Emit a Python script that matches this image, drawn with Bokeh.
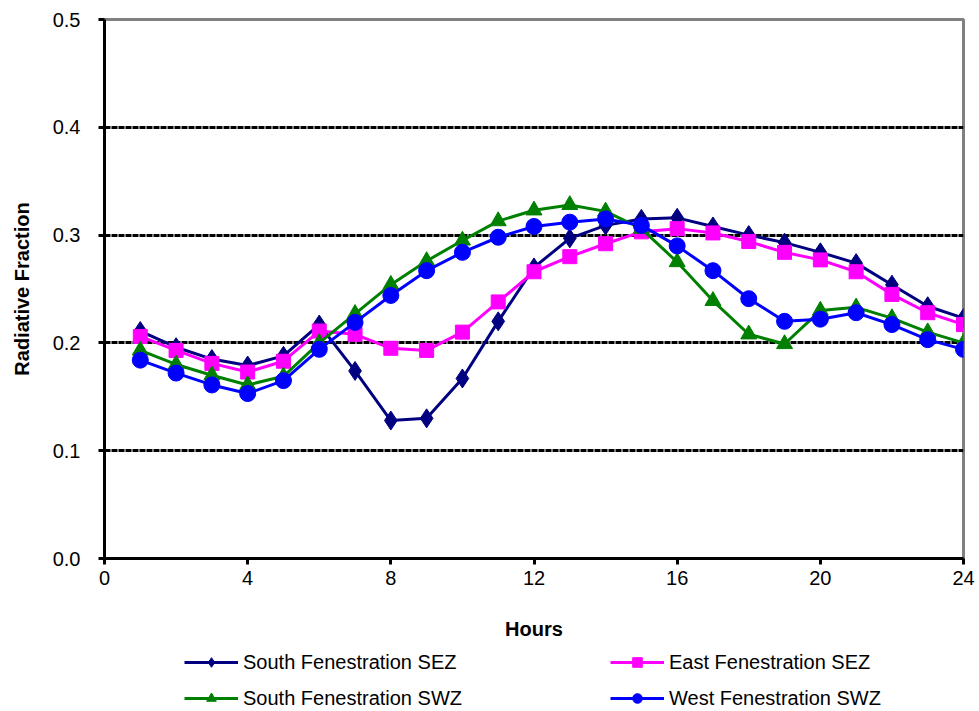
from bokeh.plotting import figure
from bokeh.layouts import column
from bokeh.models import Legend, LegendItem, NumeralTickFormatter, FixedTicker, Range1d
from bokeh.embed import file_html
from bokeh.resources import INLINE

hours = list(range(1, 25))

south_sez = [0.211, 0.196, 0.185, 0.179, 0.188, 0.217, 0.174, 0.128, 0.130, 0.167, 0.220, 0.270,
             0.297, 0.309, 0.315, 0.316, 0.308, 0.300, 0.293, 0.284, 0.274, 0.254, 0.234, 0.223]
east_sez = [0.206, 0.193, 0.181, 0.173, 0.183, 0.211, 0.208, 0.195, 0.193, 0.210, 0.238, 0.266,
            0.280, 0.292, 0.303, 0.306, 0.302, 0.294, 0.284, 0.277, 0.266, 0.245, 0.228, 0.217]
south_swz = [0.193, 0.180, 0.170, 0.161, 0.169, 0.200, 0.227, 0.254, 0.276, 0.295, 0.313, 0.323,
             0.328, 0.322, 0.306, 0.275, 0.239, 0.208, 0.199, 0.230, 0.233, 0.223, 0.210, 0.200]
west_swz = [0.184, 0.172, 0.161, 0.153, 0.165, 0.194, 0.219, 0.244, 0.267, 0.284, 0.298, 0.308,
            0.312, 0.315, 0.309, 0.290, 0.267, 0.241, 0.220, 0.222, 0.228, 0.217, 0.203, 0.194]

x_ticks = [0, 4, 8, 12, 16, 20, 24]
y_ticks = [0.0, 0.1, 0.2, 0.3, 0.4, 0.5]

FONT = "Liberation Sans"

series = [
    ("South Fenestration SEZ", south_sez, "#000080", "diamond", 19),
    ("East Fenestration SEZ", east_sez, "#FF00FF", "square", 14),
    ("South Fenestration SWZ", south_swz, "#008000", "triangle", 16),
    ("West Fenestration SWZ", west_swz, "#0000FF", "circle", 16),
]

# ---- main chart ----
p = figure(width=979, height=645, output_backend="svg", toolbar_location=None,
           x_range=Range1d(0, 24), y_range=Range1d(0, 0.5),
           min_border_left=104, min_border_right=16, min_border_top=19, min_border_bottom=87)

p.background_fill_color = "white"
p.border_fill_color = "white"
p.outline_line_color = "#808080"
p.outline_line_width = 3

# grid: dashed black horizontals only
p.xgrid.visible = False
p.ygrid.ticker = FixedTicker(ticks=[0.1, 0.2, 0.3, 0.4])
p.ygrid.grid_line_color = "black"
p.ygrid.grid_line_width = 3
p.ygrid.grid_line_dash = "6 1"

p.xaxis.ticker = FixedTicker(ticks=x_ticks)
p.yaxis.ticker = FixedTicker(ticks=y_ticks)
p.yaxis.formatter = NumeralTickFormatter(format="0.0")
p.xaxis.axis_label = "Hours"
p.yaxis.axis_label = "Radiative Fraction"

for axes in (p.xaxis, p.yaxis):
    axes.axis_line_color = "black"
    axes.axis_line_width = 3
    axes.major_tick_line_color = "black"
    axes.major_tick_line_width = 3
    axes.major_tick_in = 0
    axes.major_tick_out = 6
    axes.minor_tick_line_color = None
    axes.major_label_text_font = FONT
    axes.major_label_text_font_size = "20px"
    axes.major_label_text_color = "black"
    axes.axis_label_text_font = FONT
    axes.axis_label_text_font_size = "20px"
    axes.axis_label_text_font_style = "bold"
    axes.axis_label_text_color = "black"

p.xaxis.major_label_standoff = 6
p.yaxis.major_label_standoff = 18
p.xaxis.axis_label_standoff = 30
p.yaxis.axis_label_standoff = 17

for name, vals, color, marker, size in series:
    p.line(hours, vals, line_color=color, line_width=3)
    p.scatter(hours, vals, marker=marker, size=size, fill_color=color, line_color=color)

# ---- legend strip under the chart ----
lg = figure(width=979, height=66, output_backend="svg", toolbar_location=None,
            x_range=Range1d(100, 101), y_range=Range1d(100, 101),
            min_border=0, x_axis_type=None, y_axis_type=None)
lg.outline_line_color = None
lg.grid.visible = False
lg.background_fill_color = "white"
lg.border_fill_color = "white"

items = []
for name, vals, color, marker, size in series:
    ln = lg.line(hours, vals, line_color=color, line_width=3)
    sc = lg.scatter(hours, vals, marker=marker, size=size - 2, fill_color=color, line_color=color)
    items.append(LegendItem(label=name, renderers=[ln, sc]))

legend = Legend(items=items, orientation="horizontal", ncols=2, location=(80, 1),
                glyph_width=54, glyph_height=24, label_standoff=5, label_width=355,
                spacing=12, padding=0, margin=0, border_line_color=None,
                background_fill_alpha=0, label_text_font=FONT,
                label_text_font_size="20px", label_text_color="black")
lg.add_layout(legend, "center")

open("out.html", "w").write(file_html(column(p, lg, spacing=0), INLINE))
